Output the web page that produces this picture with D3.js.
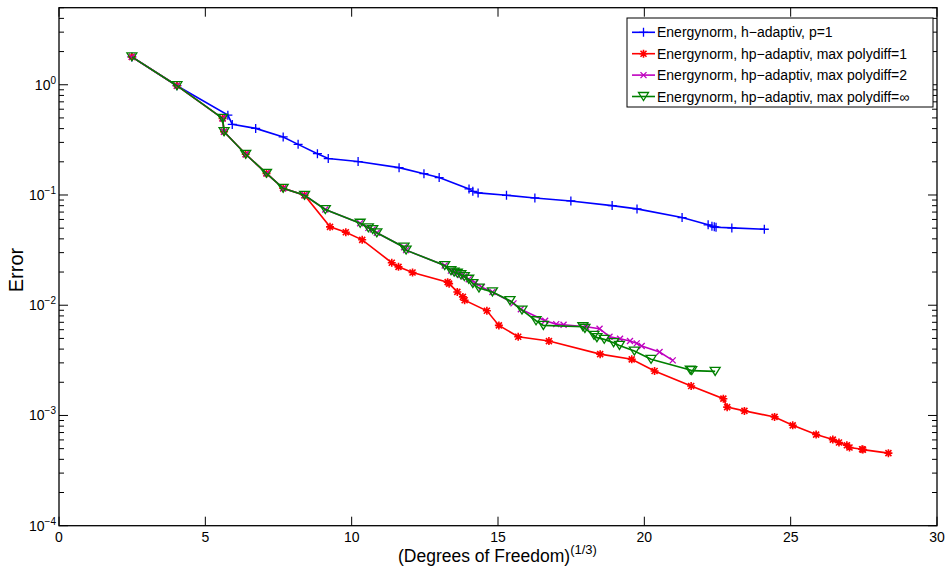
<!DOCTYPE html>
<html><head><meta charset="utf-8">
<script src="https://cdn.jsdelivr.net/npm/d3@7"></script>
<style>body{margin:0;background:#fff}svg{display:block}text{font-family:"Liberation Sans",Arial,sans-serif}</style>
</head><body><svg id="c" width="947" height="572"></svg>
<script>
const xTicks=[0,5,10,15,20,25,30];
const yDecades=[-4,-3,-2,-1,0];
const seriesNames=["Energynorm, h\u2212adaptiv, p=1","Energynorm, hp\u2212adaptiv, max polydiff=1","Energynorm, hp\u2212adaptiv, max polydiff=2","Energynorm, hp\u2212adaptiv, max polydiff=\u221e"];
const hX=[2.49,4.03,5.77,5.92,6.72,7.66,8.17,8.83,9.20,10.22,11.62,12.47,12.99,14.01,14.14,14.32,15.29,16.26,17.49,18.90,19.75,21.29,22.18,22.31,22.39,22.45,22.99,24.10];
const hY=[1.79,0.98,0.53,0.437,0.402,0.336,0.288,0.237,0.214,0.201,0.177,0.156,0.144,0.1135,0.108,0.1045,0.0994,0.094,0.0883,0.0801,0.0748,0.0624,0.0536,0.0521,0.0515,0.051,0.0503,0.0489];
const p1X=[2.49,4.03,5.59,5.64,6.38,7.09,7.66,8.39,9.26,9.80,10.36,11.37,11.60,12.08,13.28,13.33,13.61,13.80,13.86,14.62,15.03,15.69,16.74,18.49,19.57,20.35,21.60,22.70,22.83,23.42,24.45,25.07,25.87,26.44,26.65,26.92,27.01,27.44,27.47,28.34];
const p1Y=[1.79,0.98,0.495,0.375,0.234,0.157,0.115,0.0994,0.0514,0.0459,0.0392,0.0243,0.0223,0.0198,0.0162,0.0157,0.0132,0.0119,0.0111,0.0089,0.00656,0.00518,0.00473,0.0036,0.00323,0.00253,0.00185,0.00142,0.00119,0.0011,0.00097,0.000814,0.000671,0.000604,0.000568,0.000537,0.000512,0.000494,0.00049,0.000455];
const p2X=[2.49,4.03,5.59,5.64,6.38,7.09,7.66,8.39,9.10,10.29,10.57,10.72,10.86,11.79,11.86,13.18,13.39,13.50,13.61,13.73,13.85,14.00,14.22,14.45,14.81,15.53,15.78,16.61,16.99,17.24,18.01,18.47,18.81,19.17,19.51,19.74,19.91,20.52,20.97];
const p2Y=[1.79,0.98,0.495,0.375,0.234,0.157,0.115,0.0994,0.0738,0.0554,0.0503,0.0486,0.0454,0.0336,0.0316,0.0229,0.0206,0.0200,0.0195,0.0189,0.0182,0.0172,0.016,0.0146,0.0132,0.0104,0.0092,0.00723,0.00674,0.00665,0.00638,0.00612,0.00518,0.00497,0.00473,0.00451,0.00426,0.00376,0.00316];
const pinfX=[2.49,4.03,5.59,5.64,6.38,7.09,7.66,8.39,9.10,10.29,10.57,10.72,10.86,11.79,11.86,13.18,13.39,13.50,13.61,13.73,13.85,14.00,14.14,14.35,14.81,15.41,15.82,16.30,16.55,17.90,17.97,18.28,18.38,18.63,18.95,19.15,19.66,20.23,21.57,21.62,22.42];
const pinfY=[1.79,0.98,0.495,0.375,0.234,0.157,0.115,0.0994,0.0738,0.0554,0.0503,0.0486,0.0454,0.0336,0.0316,0.0229,0.0206,0.0200,0.0195,0.0189,0.0182,0.0172,0.0157,0.0143,0.0132,0.011,0.00903,0.00723,0.00656,0.00638,0.00616,0.00533,0.00508,0.0049,0.00457,0.00432,0.00384,0.00323,0.00258,0.00255,0.00251];

const svg=d3.select("#c");
const L=59,R=937,T=7.7,B=525.7;
const x=d3.scaleLinear().domain([0,30]).range([L,R]);
const y=d3.scaleLog().domain([1e-4,5]).range([B,T]);

const series=[
 {name:seriesNames[0],xs:hX,ys:hY,color:"#0000ff",mk:"plus"},
 {name:seriesNames[1],xs:p1X,ys:p1Y,color:"#ff0000",mk:"star"},
 {name:seriesNames[2],xs:p2X,ys:p2Y,color:"#bf00bf",mk:"x"},
 {name:seriesNames[3],xs:pinfX,ys:pinfY,color:"#008000",mk:"tri"}
];
const mkPath={
 plus:"M-4.5,0H4.5M0,-4.5V4.5",
 star:"M-4,0H4M0,-4V4M-3,-3L3,3M-3,3L3,-3",
 x:"M-3,-3L3,3M-3,3L3,-3",
 tri:"M-5,-4L5,-4L0,4Z"
};
const line=d3.line().x(d=>x(d[0])).y(d=>y(d[1]));
series.forEach(s=>{
 const pts=s.xs.map((v,i)=>[v,s.ys[i]]);
 const g=svg.append("g");
 g.append("path").attr("d",line(pts)).attr("fill","none").attr("stroke",s.color).attr("stroke-width",1.6);
 g.selectAll("path.m").data(pts).join("path").attr("class","m")
  .attr("transform",d=>`translate(${x(d[0])},${y(d[1])})`)
  .attr("d",mkPath[s.mk]).attr("fill","none")
  .attr("stroke",s.color).attr("stroke-width",s.mk==="star"?1.6:1.3);
});

// frame
const ax=svg.append("g").attr("stroke","#000");
ax.append("rect").attr("x",L).attr("y",T).attr("width",R-L).attr("height",B-T).attr("fill","none").attr("stroke-width",1.3);
xTicks.forEach(t=>{
 ax.append("line").attr("x1",x(t)).attr("x2",x(t)).attr("y1",B).attr("y2",B-9).attr("stroke-width",1);
 ax.append("line").attr("x1",x(t)).attr("x2",x(t)).attr("y1",T).attr("y2",T+9).attr("stroke-width",1);
 svg.append("text").attr("x",x(t)).attr("y",542).attr("text-anchor","middle").attr("font-size",14).text(t);
});
yDecades.forEach(dcd=>{
 const v=Math.pow(10,dcd);
 ax.append("line").attr("x1",L).attr("x2",L+9).attr("y1",y(v)).attr("y2",y(v)).attr("stroke-width",1);
 ax.append("line").attr("x1",R).attr("x2",R-9).attr("y1",y(v)).attr("y2",y(v)).attr("stroke-width",1);
 const tx=svg.append("text").attr("x",56).attr("y",y(v)+5).attr("text-anchor","end").attr("font-size",14);
 tx.append("tspan").text("10");
 tx.append("tspan").attr("dy",-6).attr("font-size",10).text(dcd===0?"0":"\u2212"+(-dcd));
 for(let k=2;k<=9;k++){
  const mv=k*v; if(mv>5) break;
  ax.append("line").attr("x1",L).attr("x2",L+5).attr("y1",y(mv)).attr("y2",y(mv)).attr("stroke-width",1);
  ax.append("line").attr("x1",R).attr("x2",R-5).attr("y1",y(mv)).attr("y2",y(mv)).attr("stroke-width",1);
 }
});
const xt=svg.append("text").attr("x",398).attr("y",562).attr("font-size",17.5);
xt.append("tspan").text("(Degrees of Freedom)");
xt.append("tspan").attr("dy",-8).attr("font-size",13).text("(1/3)");
svg.append("text").attr("transform","translate(23,270) rotate(-90)").attr("text-anchor","middle").attr("font-size",20).text("Error");

const lg=svg.append("g");
lg.append("rect").attr("x",627).attr("y",18).attr("width",306).attr("height",89).attr("fill","#fff").attr("stroke","#000").attr("stroke-width",1);
series.forEach((s,i)=>{
 const cy=32.3+i*21.4;
 lg.append("line").attr("x1",632).attr("x2",655).attr("y1",cy).attr("y2",cy).attr("stroke",s.color).attr("stroke-width",1.6);
 lg.append("path").attr("transform",`translate(643.5,${cy})`).attr("d",mkPath[s.mk]).attr("fill","none").attr("stroke",s.color).attr("stroke-width",s.mk==="star"?1.6:1.3);
 lg.append("text").attr("x",657).attr("y",cy+5).attr("font-size",14).text(s.name);
});
</script></body></html>
